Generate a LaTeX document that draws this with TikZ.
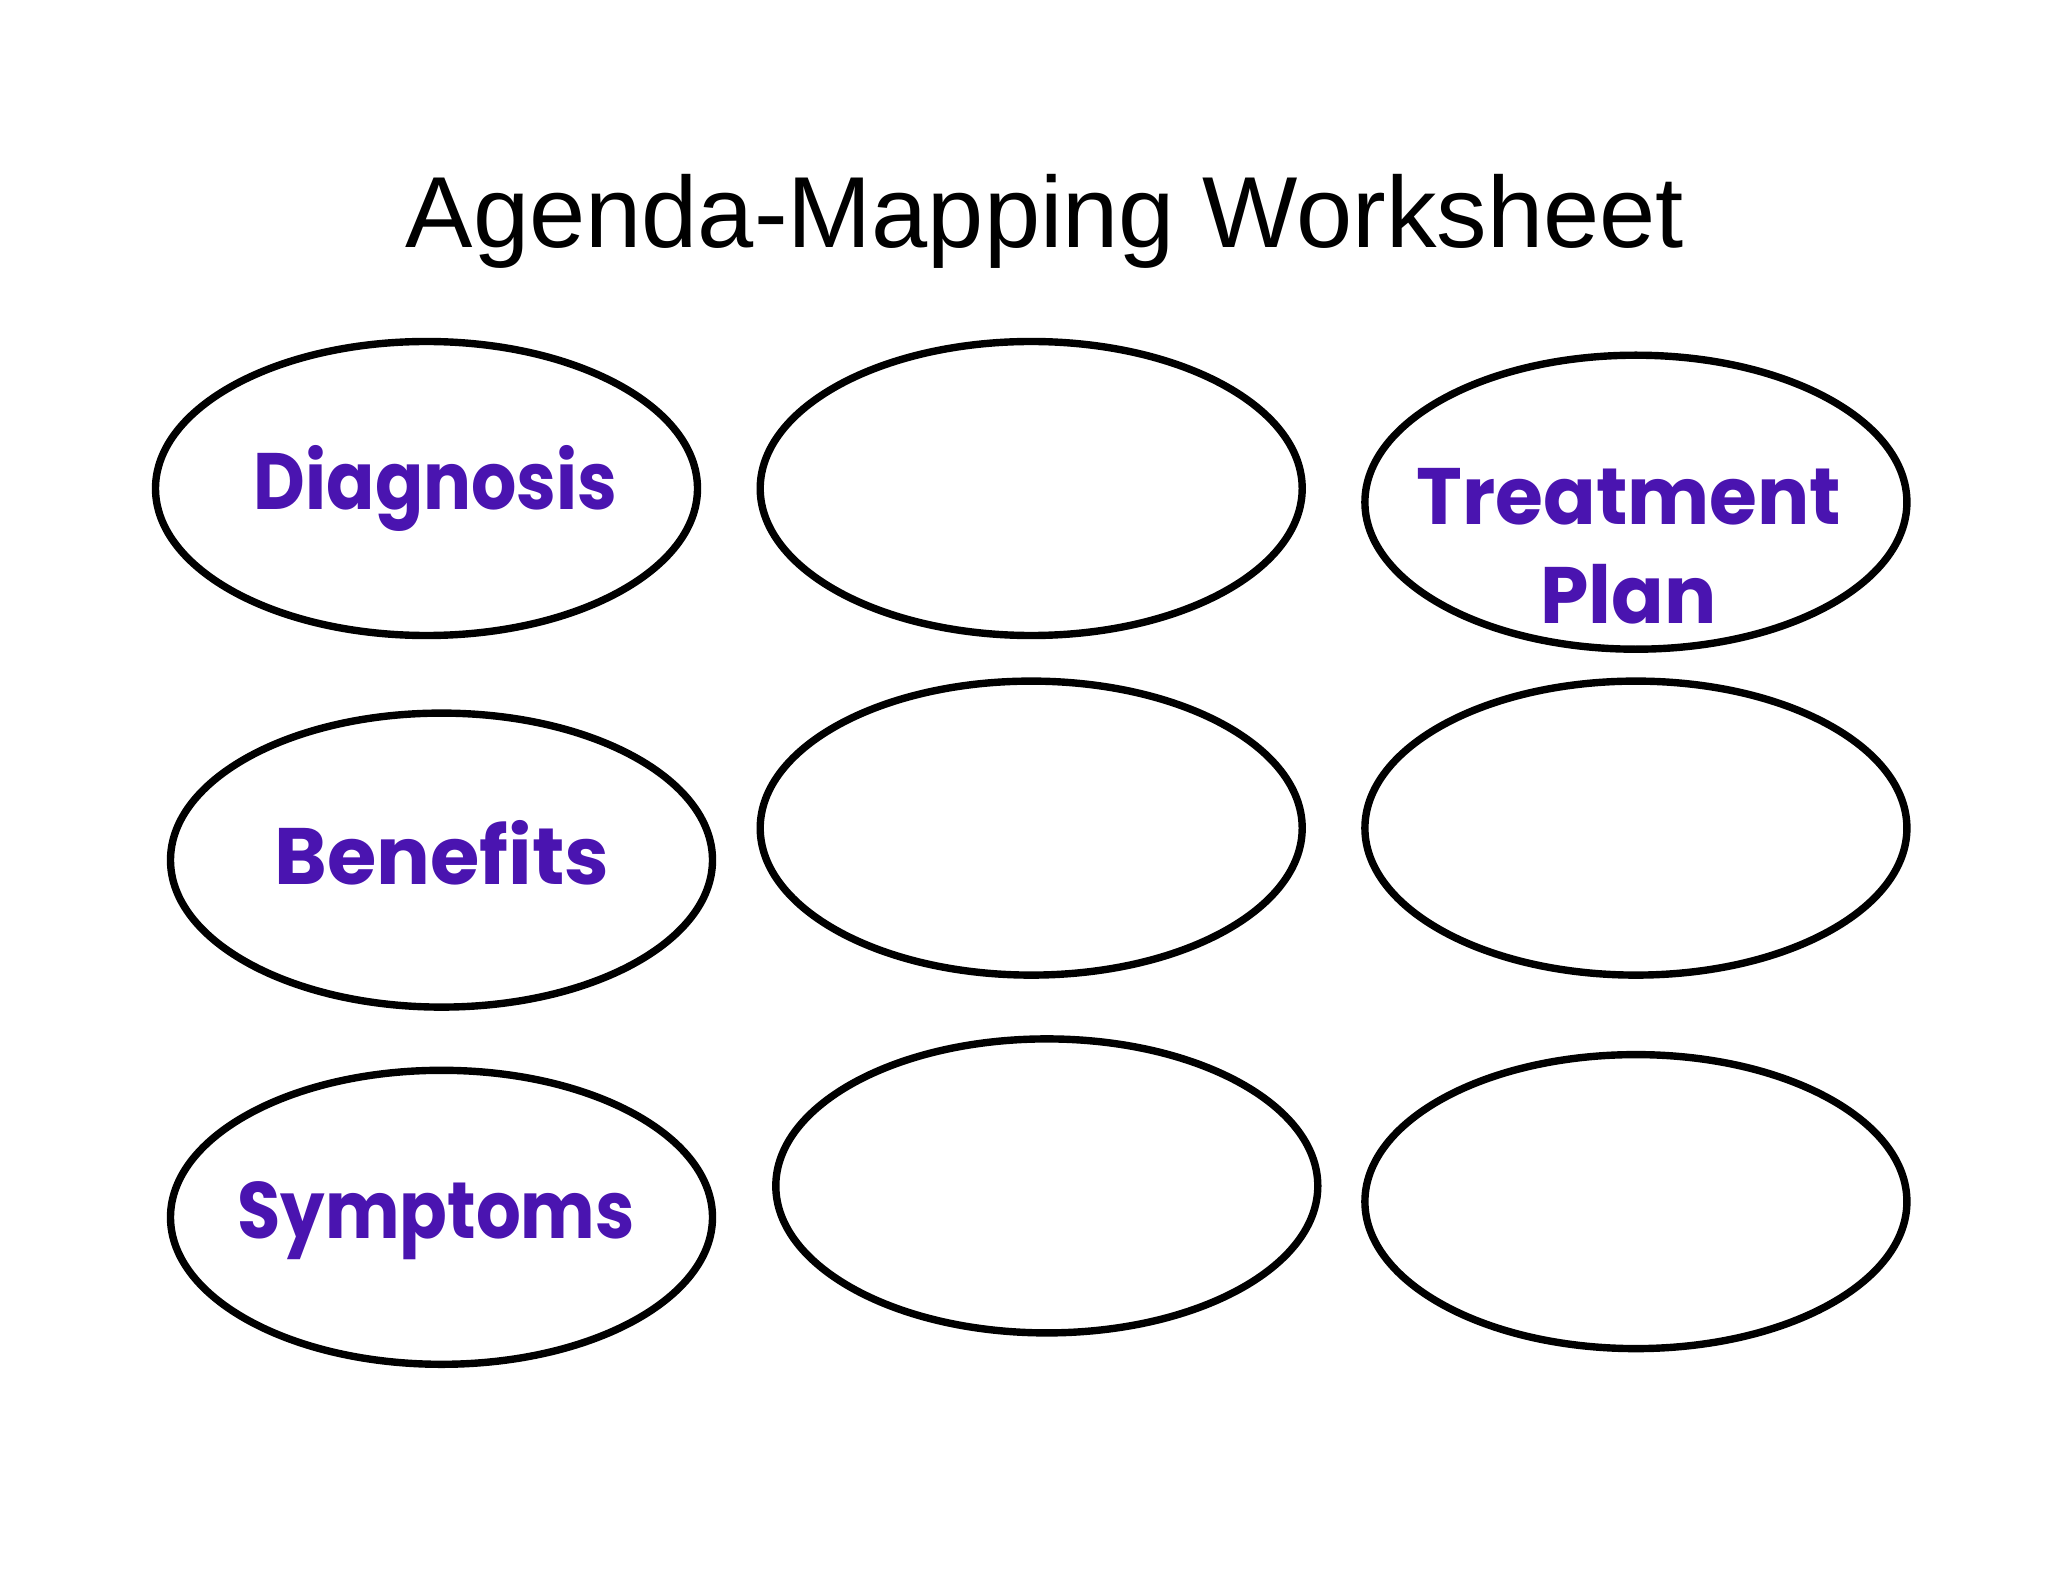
\documentclass[tikz,border=0pt]{standalone}
\usepackage{fontspec}
\setmainfont{Liberation Sans}
\newfontfamily\labfont{Poppins}
\usetikzlibrary{shapes.geometric}
\definecolor{labpurple}{RGB}{74,20,176}
\tikzset{
  oval/.style={ellipse, draw=black, line width=3.7pt, minimum width=271pt, minimum height=147pt, inner sep=0pt},
  lab/.style={anchor=base, text=labpurple, inner sep=0pt, font=\labfont\bfseries\fontsize{40pt}{48pt}\selectfont},
  ttl/.style={anchor=base, inner sep=0pt, font=\fontsize{50.5pt}{60pt}\selectfont}
}
\begin{document}
\begin{tikzpicture}[x=0.5pt,y=-0.5pt]
\useasboundingbox (0,0) rectangle (2048,1582);
\fill[white] (0,0) rectangle (2048,1582);
\node[ttl] (title) at (1045,248) {Agenda-Mapping Worksheet};
\node[oval] (e1) at (426.5,488.5) {};
\node[oval] (e2) at (1031.2,488.5) {};
\node[oval] (e3) at (1635.9,502.2) {};
\node[oval] (e4) at (441.5,860.1) {};
\node[oval] (e5) at (1031.2,828.1) {};
\node[oval] (e6) at (1635.9,828.1) {};
\node[oval] (e7) at (441.5,1217.3) {};
\node[oval] (e8) at (1046.8,1185.9) {};
\node[oval] (e9) at (1635.9,1201.6) {};
\node[lab] (diag) at (435.6,509.4) {\scalebox{0.89}[1]{Diagnosis}};
\node[lab] (treat) at (1629,525) {\scalebox{0.97}[1]{Treatment}};
\node[lab] (plan) at (1628.7,623) {\scalebox{0.97}[1]{Plan}};
\node[lab] (ben) at (442,884) {Benefits};
\node[lab] (sym) at (436,1238) {\scalebox{0.88}[1]{Symptoms}};
\end{tikzpicture}
\end{document}
